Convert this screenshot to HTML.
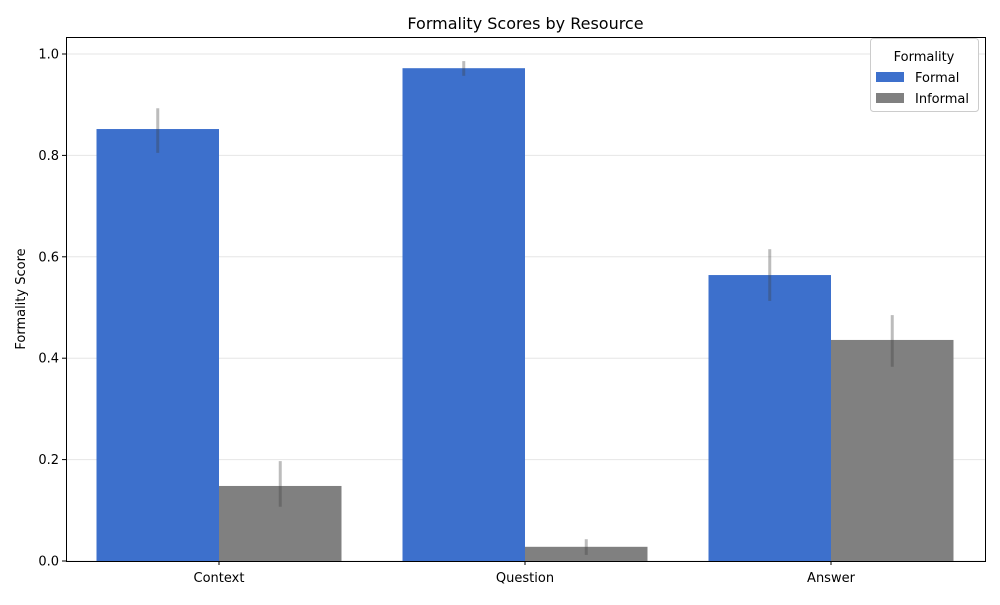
<!DOCTYPE html>
<html><head><meta charset="utf-8"><style>
body{margin:0;background:#fff;font-family:"Liberation Sans","DejaVu Sans",sans-serif;}
svg text{font-family:"DejaVu Sans","Liberation Sans",sans-serif;}
</style></head><body>
<svg id="chart" width="1000" height="600" xmlns="http://www.w3.org/2000/svg">
<rect width="1000" height="600" fill="#fff"/>
<g id="grid"></g>
<g id="bars"></g>
<g id="errs"></g>
<g id="axes"></g>
<text x="525.5" y="29" font-size="16" text-anchor="middle">Formality Scores by Resource</text>
<text transform="translate(25,299) rotate(-90)" font-size="13" text-anchor="middle">Formality Score</text>
<g>
<rect x="870.5" y="38.5" width="108" height="73" rx="3" fill="#fff" stroke="#ccc"/>
<text x="924" y="61" font-size="13" text-anchor="middle">Formality</text>
<rect x="876" y="72" width="28" height="10" fill="#3d70cc"/>
<text x="915" y="82" font-size="13">Formal</text>
<rect x="876" y="93" width="28" height="10" fill="#808080"/>
<text x="915" y="103" font-size="13">Informal</text>
</g>
</svg>
<script>
const categories=["Context","Question","Answer"];
const formal=[0.852,0.972,0.564];
const informal=[0.148,0.028,0.436];
const formalLo=[0.805,0.957,0.513];
const formalHi=[0.893,0.986,0.615];
const informalLo=[0.107,0.012,0.383];
const informalHi=[0.197,0.043,0.485];
const yTicks=[0,0.2,0.4,0.6,0.8,1.0];
const NS="http://www.w3.org/2000/svg";
const L=66,R=985,T=37,B=561;
const y=v=>561-v*507;
const x=i=>219+i*306;
const bw=122.5;
function mk(tag,attrs,parent,txt){const e=document.createElementNS(NS,tag);for(const k in attrs)e.setAttribute(k,attrs[k]);if(txt!=null)e.textContent=txt;document.getElementById(parent).appendChild(e);return e;}
yTicks.forEach(t=>{
 const g=mk('line',{x1:L,x2:R,y1:y(t),y2:y(t),stroke:'#e6e6e6','stroke-width':1},'grid');
 
 
 const tk=mk('line',{x1:L-4,x2:L,y1:y(t),y2:y(t),stroke:'#000'},'axes');
 
 
 const lb=mk('text',{x:L-7,y:y(t)+4.5,'font-size':13,'text-anchor':'end'},'axes',t.toFixed(1));
 
 
});
categories.forEach((c,i)=>{
 const b1=mk('rect',{x:x(i)-bw,y:y(formal[i]),width:bw,height:y(0)-y(formal[i]),fill:'#3d70cc'},'bars');
 
 
 const b2=mk('rect',{x:x(i),y:y(informal[i]),width:bw,height:y(0)-y(informal[i]),fill:'#808080'},'bars');
 
 
 const e1=mk('line',{x1:x(i)-bw/2,x2:x(i)-bw/2,y1:y(formalLo[i]),y2:y(formalHi[i]),stroke:'rgba(64,64,64,0.35)','stroke-width':3},'errs');
 
 
 const e2=mk('line',{x1:x(i)+bw/2,x2:x(i)+bw/2,y1:y(informalLo[i]),y2:y(informalHi[i]),stroke:'rgba(64,64,64,0.35)','stroke-width':3},'errs');
 
 
 const tk=mk('line',{x1:x(i),x2:x(i),y1:B,y2:B+4,stroke:'#000'},'axes');
 
 
 const lb=mk('text',{x:x(i),y:B+21,'font-size':13,'text-anchor':'middle'},'axes',c);
 
 
});
const fr=mk('rect',{x:L+0.5,y:T+0.5,width:R-L,height:B-T,fill:'none',stroke:'#000','stroke-width':1},'axes');


</script>
</body></html>
